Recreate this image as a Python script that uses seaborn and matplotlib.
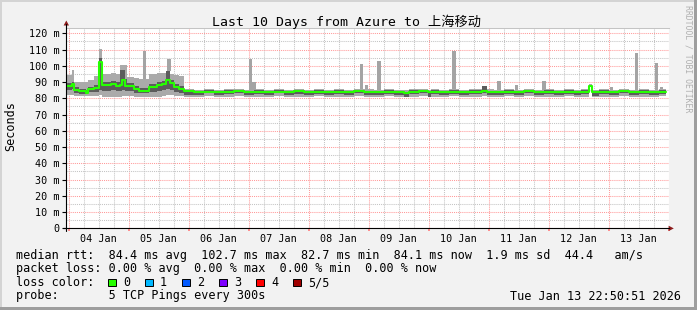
import numpy as np
import pandas as pd
import matplotlib
matplotlib.use("Agg")
import matplotlib.pyplot as plt
import seaborn as sns
from matplotlib.ticker import MultipleLocator, FuncFormatter, NullLocator
from matplotlib.patches import Rectangle, Polygon
from matplotlib.lines import Line2D

# ---------------- data (hours after 04 Jan 00:00) ----------------
hours = [-1.15, 1.2, 2.1, 4.1, 6.8, 7.7, 10.1, 12.1, 13.5, 16.8, 18.8, 20.5, 21.5, 22.4,
         23.5, 26.1, 28.1, 32.1, 35.5, 37.5, 39.0, 40.5, 42.1, 44.0,
         46.1, 50, 54, 58, 62, 66, 70, 74, 78, 82, 86, 90, 94, 98, 102, 106, 110, 114,
         118, 122, 126, 130, 134, 136, 140, 143.6, 144.8, 148, 152, 156, 160, 165.5,
         167.5, 170, 174, 178, 182, 186, 190, 194, 198, 202, 205, 208.0, 209.5, 212,
         216, 220, 224, 228, 232, 236]
median_ms = [87.5, 89.0, 85.1, 84.5, 83.5, 85.5, 86.1, 102.5, 88.2, 88.8, 87.8, 88.0, 91.0, 87.5,
             87.5, 85.5, 84.6, 86.7, 88.2, 88.8, 91.3, 89.3, 86.7, 86.0,
             84.2, 83.8, 84.0, 83.6, 84.0, 84.2, 83.8, 84.0, 83.7, 84.1, 83.9, 84.2, 83.8, 84.0,
             83.6, 84.1, 83.8, 84.3, 84.0, 83.7, 84.0, 83.9, 83.5, 84.0, 84.2, 83.6, 84.0, 83.8,
             84.1, 83.9, 84.0, 84.6, 84.0, 83.8, 84.1, 83.9, 84.2, 83.8, 84.0, 83.7, 84.1, 83.9,
             84.0, 87.8, 83.6, 84.0, 83.8, 84.2, 83.9, 84.1, 83.8, 84.1]
smoke_lo = [82.0, 82.0, 81.5, 81.5, 81.5, 81.5, 81.5, 82.0, 81.0, 81.0, 81.0, 81.0, 81.5, 81.5,
            81.5, 81.0, 81.0, 81.0, 81.0, 81.5, 82.0, 82.0, 81.5, 81.5,
            81.0, 81.0, 81.2, 81.0, 81.0, 81.2, 81.0, 81.0, 81.0, 81.2, 81.0, 81.0, 81.0, 81.2,
            81.0, 81.0, 81.0, 81.2, 81.0, 81.0, 81.2, 81.0, 80.8, 81.0, 81.2, 80.8, 81.0, 81.0,
            81.2, 81.0, 81.0, 81.5, 81.0, 81.0, 81.2, 81.0, 81.2, 81.0, 81.0, 81.0, 81.2, 81.0,
            81.0, 86.8, 80.8, 81.0, 81.0, 81.2, 81.0, 81.0, 81.0, 81.2]
smoke_q1 = [85.0, 85.5, 83.2, 82.8, 82.6, 83.8, 84.0, 85.0, 84.5, 85.0, 84.5, 84.5, 85.0, 84.5,
            84.5, 83.5, 83.0, 84.0, 84.8, 85.2, 85.5, 85.0, 84.0, 83.5,
            82.3, 82.0, 83.0, 81.8, 82.5, 83.2, 82.0, 82.6, 81.8, 83.0, 82.2, 82.8, 81.9, 82.9,
            82.0, 82.5, 81.9, 83.0, 82.3, 82.0, 82.8, 82.2, 81.0, 82.6, 83.0, 81.0, 82.4, 82.0,
            82.8, 82.2, 82.5, 83.2, 82.3, 81.9, 82.8, 82.0, 83.0, 82.0, 82.5, 81.9, 82.9, 82.2,
            82.5, 87.2, 81.3, 82.6, 82.0, 83.0, 82.2, 82.7, 81.9, 82.8]
smoke_q3 = [89.5, 90.0, 86.8, 86.0, 85.0, 87.2, 88.0, 104.5, 90.0, 90.5, 89.8, 97.4, 97.4, 92.0,
            89.5, 87.5, 86.5, 88.5, 90.0, 90.5, 96.7, 91.0, 88.5, 87.8,
            85.0, 84.6, 85.0, 84.2, 85.2, 85.0, 84.5, 85.2, 84.3, 84.9, 84.6, 85.3, 84.4, 85.0,
            84.2, 85.1, 84.5, 85.3, 84.8, 84.4, 85.0, 84.6, 84.0, 85.0, 85.2, 84.2, 84.9, 84.5,
            85.1, 84.6, 85.0, 87.3, 84.8, 84.5, 85.1, 84.6, 85.2, 84.5, 85.0, 84.3, 85.1, 84.6,
            84.9, 88.3, 84.2, 85.0, 84.5, 85.2, 84.6, 85.0, 84.5, 85.1]
smoke_hi = [94.3, 97.4, 90.0, 89.8, 90.0, 91.5, 94.0, 110.3, 95.0, 95.5, 95.0, 100.5, 100.5, 100.5,
            93.3, 92.5, 92.0, 95.0, 95.4, 95.4, 97.0, 95.0, 94.3, 93.5,
            85.5, 85.4, 85.5, 85.3, 85.6, 85.5, 85.3, 85.6, 85.4, 85.5, 85.3, 85.7, 85.4, 85.5,
            85.3, 85.6, 85.4, 85.8, 85.5, 85.4, 85.5, 85.4, 85.2, 85.5, 85.6, 85.3, 85.5, 85.4,
            85.6, 85.4, 85.5, 87.6, 85.5, 85.4, 85.6, 85.4, 85.7, 85.4, 85.5, 85.3, 85.6, 85.4,
            85.5, 88.6, 85.3, 85.6, 85.4, 85.7, 85.4, 85.5, 85.4, 85.6]
end_hour = 238.85

spike_hours = [29.6, 39.5, 72.1, 73.5, 116.4, 118.4, 123.5, 153.5, 171.5, 178.4, 189.5,
               216.4, 222.0, 226.4, 234.4, 236.4]
spike_tops = [109.0, 104.2, 104.2, 90.2, 101.1, 88.4, 103.0, 109.0, 90.6, 88.2, 90.6,
              87.0, 86.0, 108.0, 102.0, 87.0]

day_labels = ['04 Jan', '05 Jan', '06 Jan', '07 Jan', '08 Jan', '09 Jan', '10 Jan',
              '11 Jan', '12 Jan', '13 Jan']
loss_labels = ['0', '1', '2', '3', '4', '5/5']
loss_colors = ['#26ff00', '#00b8ff', '#0059ff', '#7e00ff', '#ff0000', '#a00000']

title = 'Last 10 Days from Azure to 上海移动'
legend_rows = [
    'median rtt:  84.4 ms avg  102.7 ms max  82.7 ms min  84.1 ms now  1.9 ms sd  44.4   am/s',
    'packet loss: 0.00 % avg  0.00 % max  0.00 % min  0.00 % now',
    'loss color:',
    'probe:       5 TCP Pings every 300s',
]
stamp = 'Tue Jan 13 22:50:51 2026'

# ---------------- style ----------------
sns.set_theme(style='white')
plt.rcParams['font.family'] = ['DejaVu Sans Mono', 'Noto Sans CJK SC']
plt.rcParams['text.color'] = 'black'
plt.rcParams['xtick.color'] = 'black'
plt.rcParams['ytick.color'] = 'black'

W, H = 697, 310
fig = plt.figure(figsize=(W / 100, H / 100), dpi=100, facecolor='#F2F2F2')


def fx(x):
    return x / W


def fy(y):
    return 1 - y / H


left, right, top, bottom = 65.7, 668.6, 27.7, 228.3
ax = fig.add_axes([fx(left), fy(bottom), (right - left) / W, (bottom - top) / H])
ax.set_facecolor('white')
ax.set_xlim(-1.15, -1.15 + (right - left) / 2.5)
ax.set_ylim(0, (bottom - top) / 1.625)

# smoke
t = np.array(hours + [end_hour])


def ext(a):
    return np.array(a + [a[-1]])


ax.fill_between(t, ext(smoke_lo), ext(smoke_hi), step='post', color='#aaaaaa', lw=0, zorder=2)
idx = np.searchsorted(np.array(hours), np.array(spike_hours), side='right') - 1
base = np.array(smoke_hi)[idx]
ax.bar(spike_hours, np.array(spike_tops) - base, bottom=base, width=1.3, align='edge',
       color='#a4a4a4', lw=0, zorder=2)
ax.fill_between(t, ext(smoke_q1), ext(smoke_q3), step='post', color='#5c5c5c', lw=0, zorder=3)

df = pd.DataFrame({'hour': t, 'rtt': ext(median_ms)})
sns.lineplot(data=df, x='hour', y='rtt', drawstyle='steps-post', color='#26ff00',
             linewidth=1.5, ax=ax, zorder=4, legend=False)
ax.set_xlabel('')
ax.set_ylabel('')

# grid
ax.xaxis.set_major_locator(MultipleLocator(24))
ax.xaxis.set_minor_locator(MultipleLocator(6))
ax.yaxis.set_major_locator(MultipleLocator(10))
ax.yaxis.set_minor_locator(MultipleLocator(5))
ax.grid(which='minor', color='#c4c4c4', lw=0.75, ls=(0, (1, 1)))
ax.grid(which='major', color='#ff9a9a', lw=0.75, ls=(0, (1, 1)))
ax.set_axisbelow(True)

for s in ['left', 'bottom', 'right']:
    ax.spines[s].set_visible(False)
ax.spines['top'].set_color('#c4c4c4')
ax.spines['top'].set_linestyle((0, (1, 1)))
ax.spines['top'].set_linewidth(0.75)

ax.tick_params(axis='y', which='major', left=True, length=2.9, width=0.8, color='black',
               pad=1.5, labelsize=7.3)
ax.tick_params(axis='y', which='minor', left=False, length=0)
ax.tick_params(axis='x', which='major', bottom=True, length=2, color='#ff8080', labelbottom=False)
ax.tick_params(axis='x', which='minor', bottom=False, length=0, labelbottom=False)
ax.yaxis.set_major_formatter(FuncFormatter(lambda v, p: '0' if v == 0 else f'{int(round(v))} m'))

sec = ax.secondary_xaxis('bottom')
sec.set_xticks(np.arange(len(day_labels)) * 24 + 12, labels=day_labels)
sec.xaxis.set_minor_locator(NullLocator())
sec.tick_params(length=0, pad=4.0, labelsize=7.3)
sec.spines['bottom'].set_visible(False)

# axes lines and arrows
fig.add_artist(Line2D([fx(66.3), fx(66.3)], [fy(230.5), fy(24)], color='black', lw=0.8))
fig.add_artist(Line2D([fx(62.5), fx(669)], [fy(228.4), fy(228.4)], color='black', lw=0.8))
fig.add_artist(Polygon([(fx(66.3), fy(20.5)), (fx(63.6), fy(25.5)), (fx(69.0), fy(25.5))],
                       closed=True, color='#8c1c1c', lw=0))
fig.add_artist(Polygon([(fx(673.8), fy(228.4)), (fx(668.6), fy(225.7)), (fx(668.6), fy(231.1))],
                       closed=True, color='#8c1c1c', lw=0))

# texts
fig.text(fx(347), fy(21.5), title, ha='center', va='center', fontsize=9.5)
fig.text(fx(10.5), fy(126), 'Seconds', rotation=90, ha='center', va='center', fontsize=8.5)
fig.text(fx(688), fy(59), 'RRDTOOL / TOBI OETIKER', rotation=270, ha='center', va='center',
         fontsize=5.9, color='#b0b0b0')

row_y = [255, 268.5, 282.5, 296]
for txt, yy in zip(legend_rows, row_y):
    fig.text(fx(16), fy(yy), txt, ha='left', va='center', fontsize=8.5)
fig.text(fx(681), fy(row_y[3]), stamp, ha='right', va='center', fontsize=8.5)

for k, (lab, col) in enumerate(zip(loss_labels, loss_colors)):
    bx = 108.3 + 37 * k
    fig.add_artist(Rectangle((fx(bx), fy(286.2)), 7.6 / W, 7.6 / H, transform=fig.transFigure,
                             facecolor=col, edgecolor='black', lw=0.7))
    fig.text(fx(bx + 14.7), fy(row_y[2]), lab, ha='left', va='center', fontsize=8.5)

# frame
fig.add_artist(Rectangle((0, 1 - 2 / H), 1, 2 / H, transform=fig.transFigure,
                         facecolor='#d4d4d4', lw=0))
fig.add_artist(Rectangle((0, 0), 2 / W, 1, transform=fig.transFigure,
                         facecolor='#d4d4d4', lw=0))
fig.add_artist(Rectangle((0, 0), 1, 3 / H, transform=fig.transFigure,
                         facecolor='#9e9e9e', lw=0))
fig.add_artist(Rectangle((1 - 3 / W, 0), 3 / W, 1, transform=fig.transFigure,
                         facecolor='#9e9e9e', lw=0))

fig.savefig('out.png', dpi=100, facecolor=fig.get_facecolor())
